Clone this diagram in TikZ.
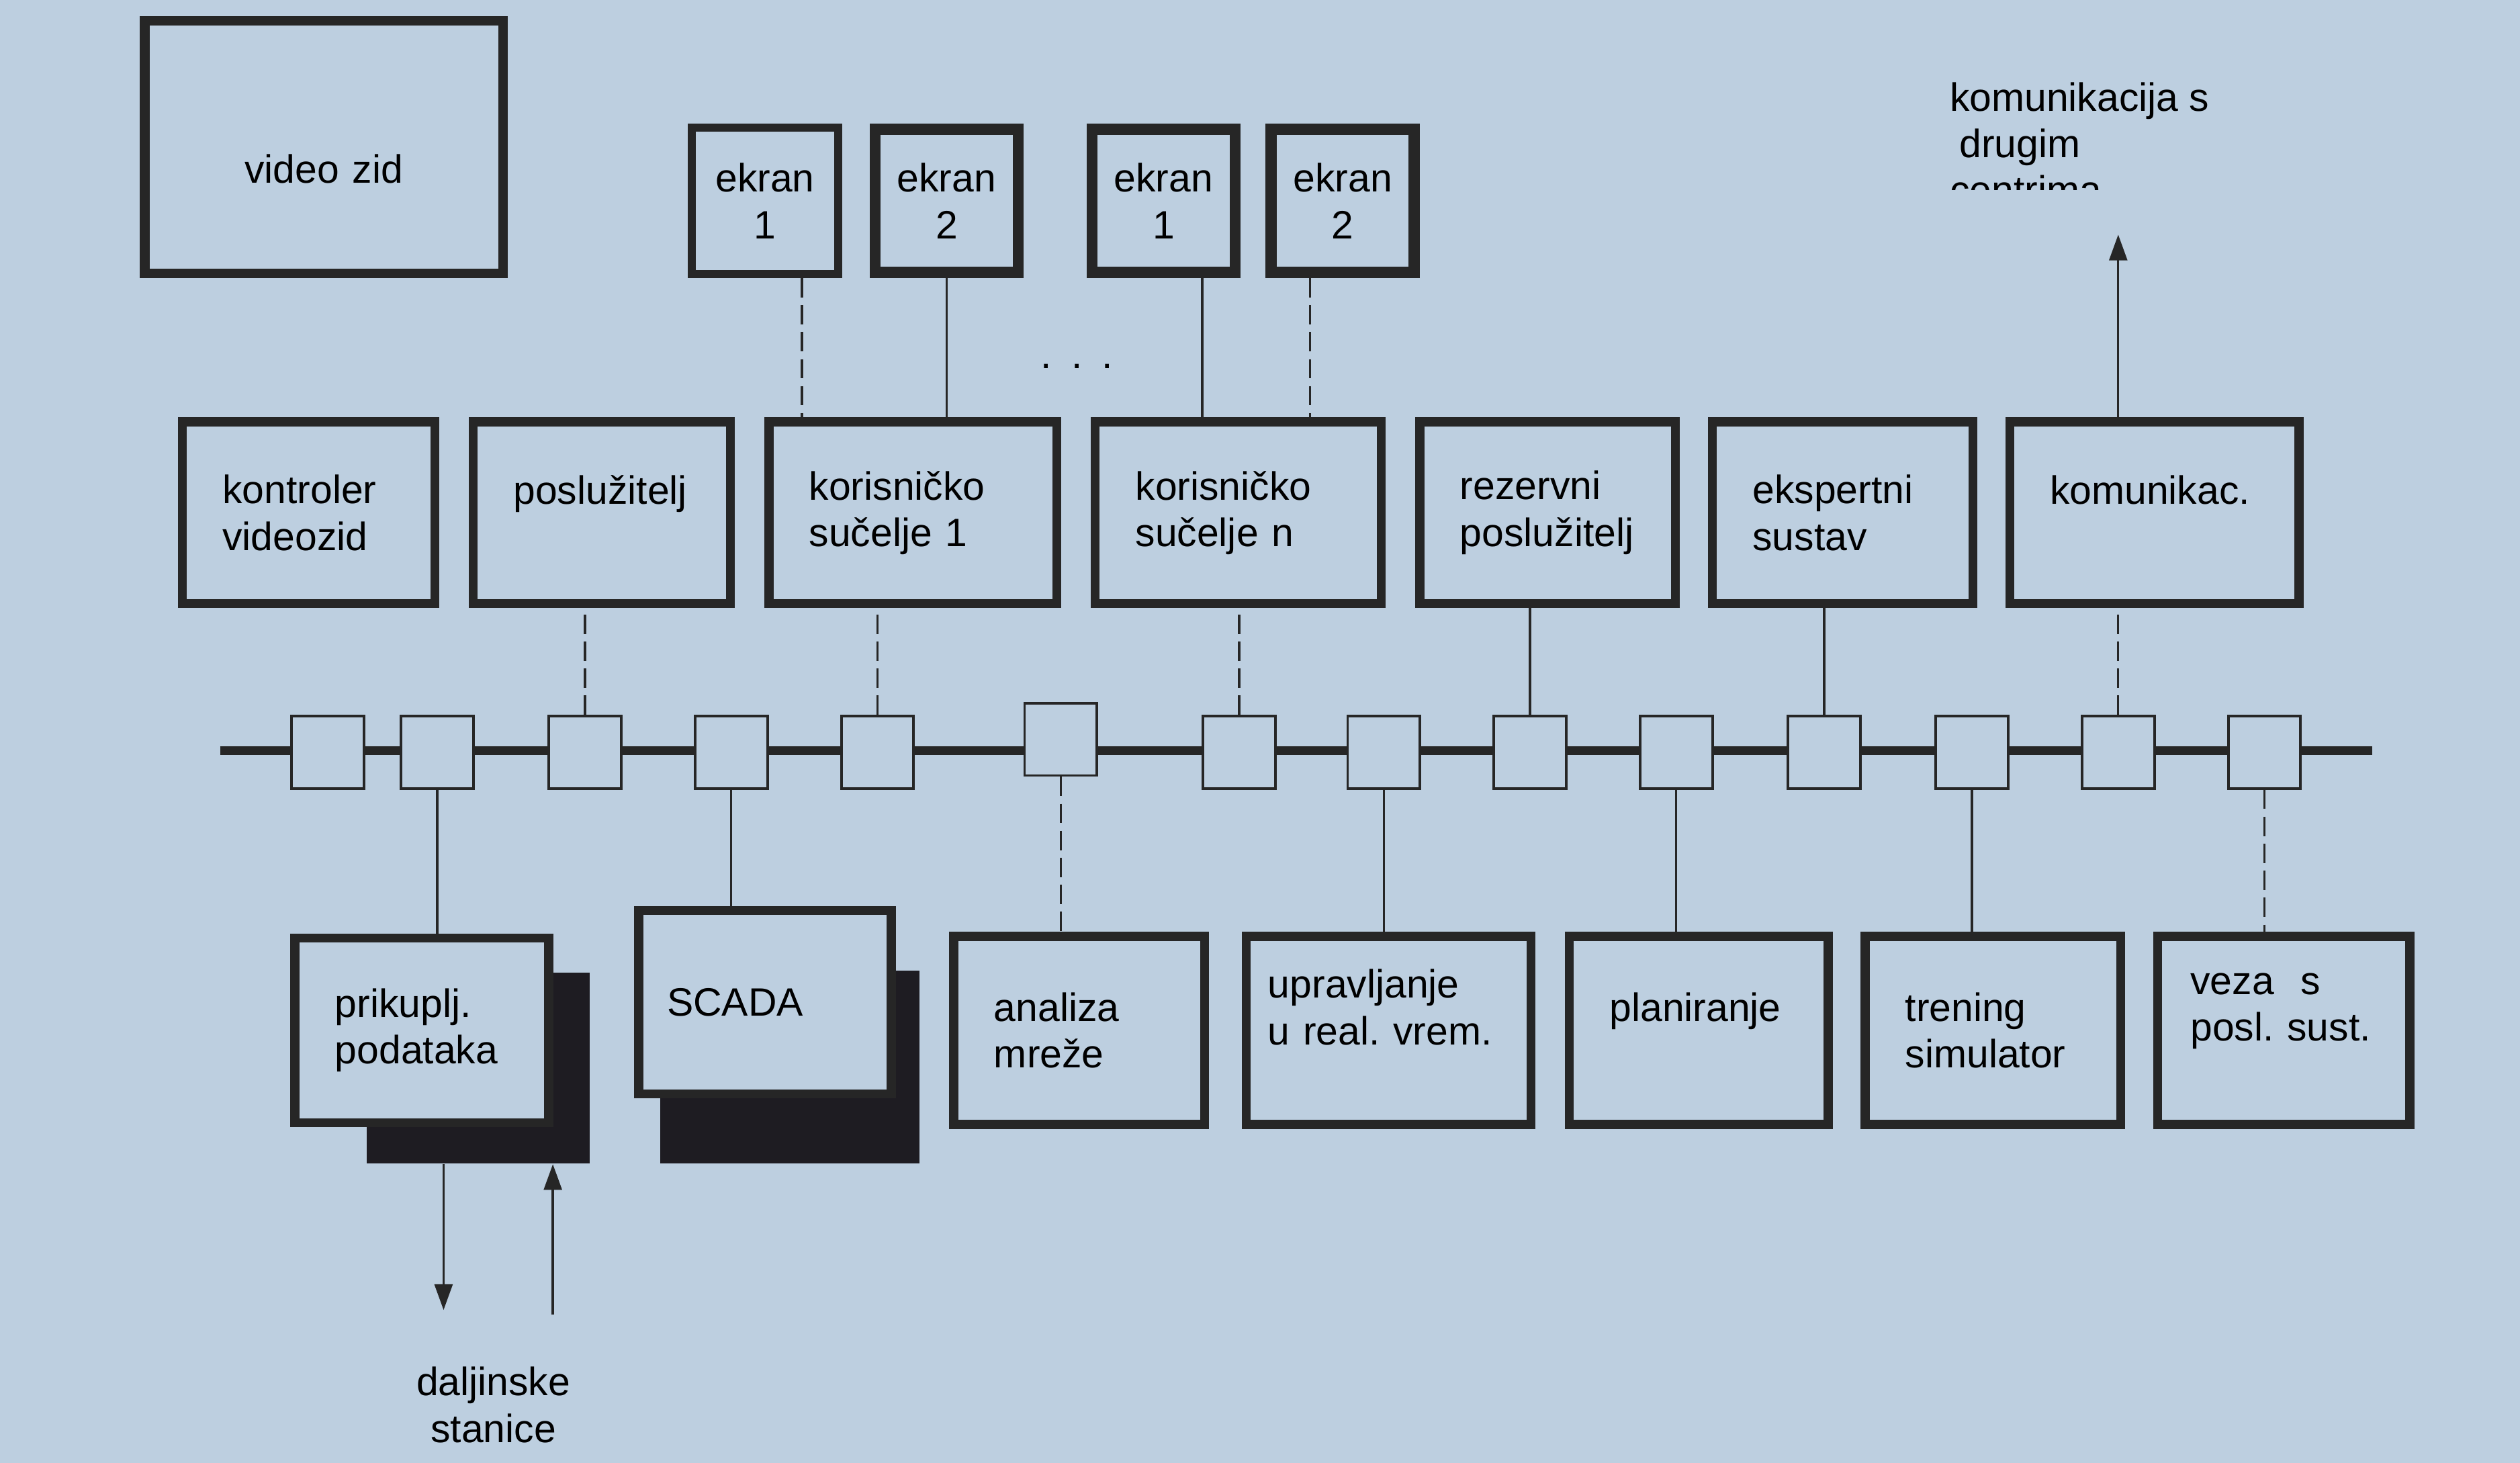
\documentclass[tikz,border=0pt]{standalone}
\usepackage{fontspec}
\setmainfont{Liberation Sans}
\usetikzlibrary{arrows.meta}
\definecolor{paper}{HTML}{BDCFE0}
\definecolor{ink}{HTML}{262626}
\definecolor{dropink}{HTML}{1E1C22}
\newlength\pxl
\setlength\pxl{0.25mm}
\newcommand\lbl{\fontsize{17.5}{20.6}\selectfont}
\frenchspacing
\tikzset{
unit/.style 2 args={draw=ink,line width=1.4mm,fill=paper,inner sep=0pt,
  minimum width=#1*\pxl,minimum height=#2*\pxl,text width=(#1-50)*\pxl,
  align=left,font=\lbl},
screen/.style={draw=ink,line width=1.75mm,fill=paper,inner sep=0pt,
  minimum width=89*\pxl,minimum height=89*\pxl,align=center,font=\lbl},
port/.style={draw=ink,line width=0.4mm,fill=paper,minimum size=45*\pxl,inner sep=0pt},
dropbox/.style={fill=dropink,inner sep=0pt},
bus/.style={draw=ink,line width=1.4mm},
link/.style={draw=ink,line width=0.35mm},
broken/.style={link,dash pattern=on 3mm off 1.2mm},
arr/.style={link,-{Triangle[length=4mm,width=2.8mm]}},
note/.style={font=\lbl,align=left,inner sep=0pt}
}

\begin{document}
\begin{tikzpicture}[x=0.25mm,y=-0.25mm]
\fill[paper] (0,0) rectangle (1568,910);
\useasboundingbox (0,0) rectangle (1568,910);
% video wall and screens
\node[unit={223}{157},line width=1.5mm,align=center] (wall) at (201.5,91.5) {\mbox{}\\[4mm]video zid};
\node[screen,line width=1.25mm,minimum width=91*\pxl,minimum height=91*\pxl] (ekA) at (476,125) {ekran\\1};
\node[screen] (ekB) at (589,125) {ekran\\2};
\node[screen] (ekC) at (724,125) {ekran\\1};
\node[screen] (ekD) at (835.5,125) {ekran\\2};
\node[note] (dots) at (670,228) {.\hspace{3mm}.\hspace{3mm}.};
% upper row
\node[unit={157}{113}] (ctrl) at (192,319) {kontroler\\videozid};
\node[unit={160}{113}] (srv) at (374.5,319) {poslužitelj\\\mbox{}};
\node[unit={179}{113}] (uiA) at (568,319) {korisničko\\sučelje 1};
\node[unit={178}{113}] (uiN) at (770.5,319) {korisničko\\sučelje n};
\node[unit={159}{113}] (spare) at (963,319) {rezervni\\poslužitelj};
\node[unit={162}{113}] (expert) at (1146.5,319) {ekspertni\\sustav};
\node[unit={180}{113}] (comm) at (1340.5,319) {komunikac.\\\mbox{}};
% bus with ports
\coordinate (busW) at (137,467);
\coordinate (busE) at (1476,467);
\draw[bus] (busW) -- (busE);
\node[port] (p1) at (204,468) {};
\node[port] (p2) at (272,468) {};
\node[port] (p3) at (364,468) {};
\node[port] (p4) at (455,468) {};
\node[port] (p5) at (546,468) {};
\node[port] (p6) at (660,460) {};
\node[port] (p7) at (771,468) {};
\node[port] (p8) at (861,468) {};
\node[port] (p9) at (952,468) {};
\node[port] (p10) at (1043,468) {};
\node[port] (p11) at (1135,468) {};
\node[port] (p12) at (1227,468) {};
\node[port] (p13) at (1318,468) {};
\node[port] (p14) at (1409,468) {};
% lower row
\node[dropbox,minimum width=139*\pxl,minimum height=119*\pxl] (acqSh) at (297.5,664.5) {};
\node[dropbox,minimum width=161*\pxl,minimum height=120*\pxl] (scadaSh) at (491.5,664) {};
\node[unit={158}{115}] (acq) at (262.5,641) {prikuplj.\\podataka};
\node[unit={157}{114},text width=122*\pxl] (scada) at (476,623.5) {SCADA};
\node[unit={156}{117}] (net) at (671.5,641) {analiza\\mreže};
\node[unit={177}{117},text width=150*\pxl] (rt) at (864,641) {upravljanje\\u real. vrem.\\\mbox{}};
\node[unit={161}{117}] (plan) at (1057,641) {planiranje\\\mbox{}};
\node[unit={159}{117}] (train) at (1240,641) {trening\\simulator};
\node[unit={157}{117},text width=116*\pxl] (biz) at (1421,641) {veza\ \ s\\posl. sust.\\\mbox{}};
% screens to user interfaces
\draw[broken] ([xshift=23*\pxl]ekA.south) -- ([xshift=23*\pxl]ekA.south |- uiA.north);
\draw[link] (ekB.south) -- (ekB.south |- uiA.north);
\draw[link] ([xshift=24*\pxl]ekC.south) -- ([xshift=24*\pxl]ekC.south |- uiN.north);
\draw[broken] ([xshift=-20.5*\pxl]ekD.south) -- ([xshift=-20.5*\pxl]ekD.south |- uiN.north);
% upper row to bus
\draw[broken] (p3.north) -- (p3.north |- srv.south);
\draw[broken] (p5.north) -- (p5.north |- uiA.south);
\draw[broken] (p7.north) -- (p7.north |- uiN.south);
\draw[link] (p9.north) -- (p9.north |- spare.south);
\draw[link] (p11.north) -- (p11.north |- expert.south);
\draw[broken] (p13.north) -- (p13.north |- comm.south);
% bus to lower row
\draw[link] (p2.south) -- (p2.south |- acq.north);
\draw[link] (p4.south) -- (p4.south |- scada.north);
\draw[broken] (p6.south) -- (p6.south |- net.north);
\draw[link] (p8.south) -- (p8.south |- rt.north);
\draw[link] (p10.south) -- (p10.south |- plan.north);
\draw[link] (p12.south) -- (p12.south |- train.north);
\draw[broken] (p14.south) -- (p14.south |- biz.north);
% outside links
\coordinate (others) at (1318,146);
\draw[arr] (comm.north -| others) -- (others);
\begin{scope}
\clip (1190,30) rectangle (1430,118);
\node[note,anchor=north west] (peers) at (1213,51) {komunikacija s\\\hspace{1.5mm}drugim\\centrima};
\end{scope}
\coordinate (rtuOut) at (276,815);
\coordinate (rtuIn) at (344,818);
\draw[arr] (acqSh.south -| rtuOut) -- (rtuOut);
\draw[arr] (rtuIn) -- (acqSh.south -| rtuIn);
\node[note,align=center] (rtu) at (307,874) {daljinske\\stanice};
\end{tikzpicture}
\end{document}
